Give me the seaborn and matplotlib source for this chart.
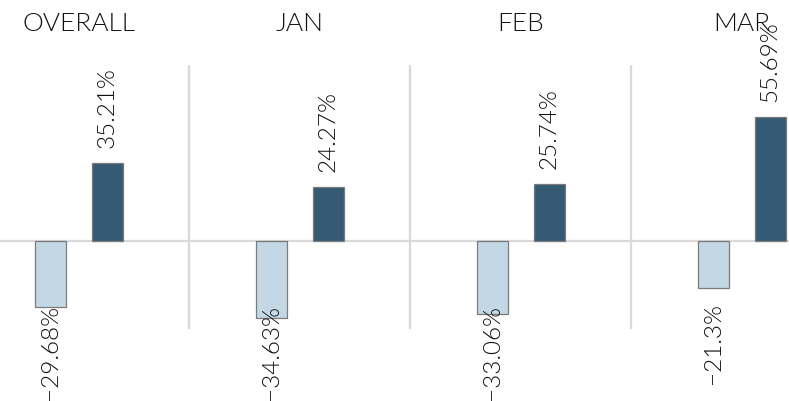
import matplotlib
matplotlib.use("Agg")
import matplotlib.pyplot as plt
import seaborn as sns
import pandas as pd

# values
periods = ["OVERALL", "JAN", "FEB", "MAR"]
negative = [-29.68, -34.63, -33.06, -21.3]
positive = [35.21, 24.27, 25.74, 55.69]

df = pd.DataFrame({
    "period": periods * 2,
    "value": negative + positive,
    "sign": ["neg"] * len(periods) + ["pos"] * len(periods),
})

sns.set_style("white")
plt.rcParams["font.family"] = ["Lato", "DejaVu Sans"]

fig = plt.figure(figsize=(7.89, 4.01), dpi=100)
W, H = 789, 401
# panel width ~221px, first panel centred at ~79px (chart is wider than the image)
ax = fig.add_axes([-31.75 / W, 0, 884 / W, 1])

zero_px = 241
px_per_unit = 2.22
ax.set_xlim(-0.5, 3.5)
ax.set_ylim(-(H - zero_px) / px_per_unit, zero_px / px_per_unit)

sns.barplot(data=df, x="period", y="value", hue="sign", order=periods,
            hue_order=["neg", "pos"], palette={"neg": "#c4d7e5", "pos": "#355a74"},
            saturation=1, width=0.516, gap=0.457, edgecolor="#7a7a7a", linewidth=0.9,
            legend=False, ax=ax, zorder=3)
ax.set_xlim(-0.5, 3.5)
ax.axis("off")

# zero line and separators
ax.axhline(0, color="#d9d9d9", lw=1.6, zorder=1)
for x in [0.5, 1.5, 2.5]:
    ax.vlines(x, -39.6, 79.3, color="#d9d9d9", lw=1.6, zorder=1)

# panel titles
for i, p in enumerate(periods):
    ax.text(i, (zero_px - 24) / px_per_unit, p, ha="center", va="center",
            fontsize=19, fontweight=300, color="#111111")

# value labels
neg_labels = []
for bar in ax.patches:
    h = bar.get_height()
    if h == 0:
        continue
    xc = bar.get_x() + bar.get_width() / 2
    txt = f"{h:g}%".replace("-", "\u2212")
    if h > 0:
        ax.annotate(txt, (xc, h), xytext=(0, 15), textcoords="offset pixels",
                    rotation=90, ha="center", va="bottom", fontsize=17.5,
                    fontweight=300, color="#111111")
    else:
        a = ax.annotate(txt, (xc, h), xytext=(0, -15), textcoords="offset pixels",
                        rotation=90, ha="center", va="top", fontsize=17.5,
                        fontweight=300, color="#111111")
        neg_labels.append(a)

# keep long negative labels from running off the bottom
fig.canvas.draw()
r = fig.canvas.get_renderer()
for a in neg_labels:
    bb = a.get_window_extent(r)
    if bb.y0 < 1:
        a.xyann = (0, -15 + (1 - bb.y0))

fig.savefig("out.png", dpi=100)
